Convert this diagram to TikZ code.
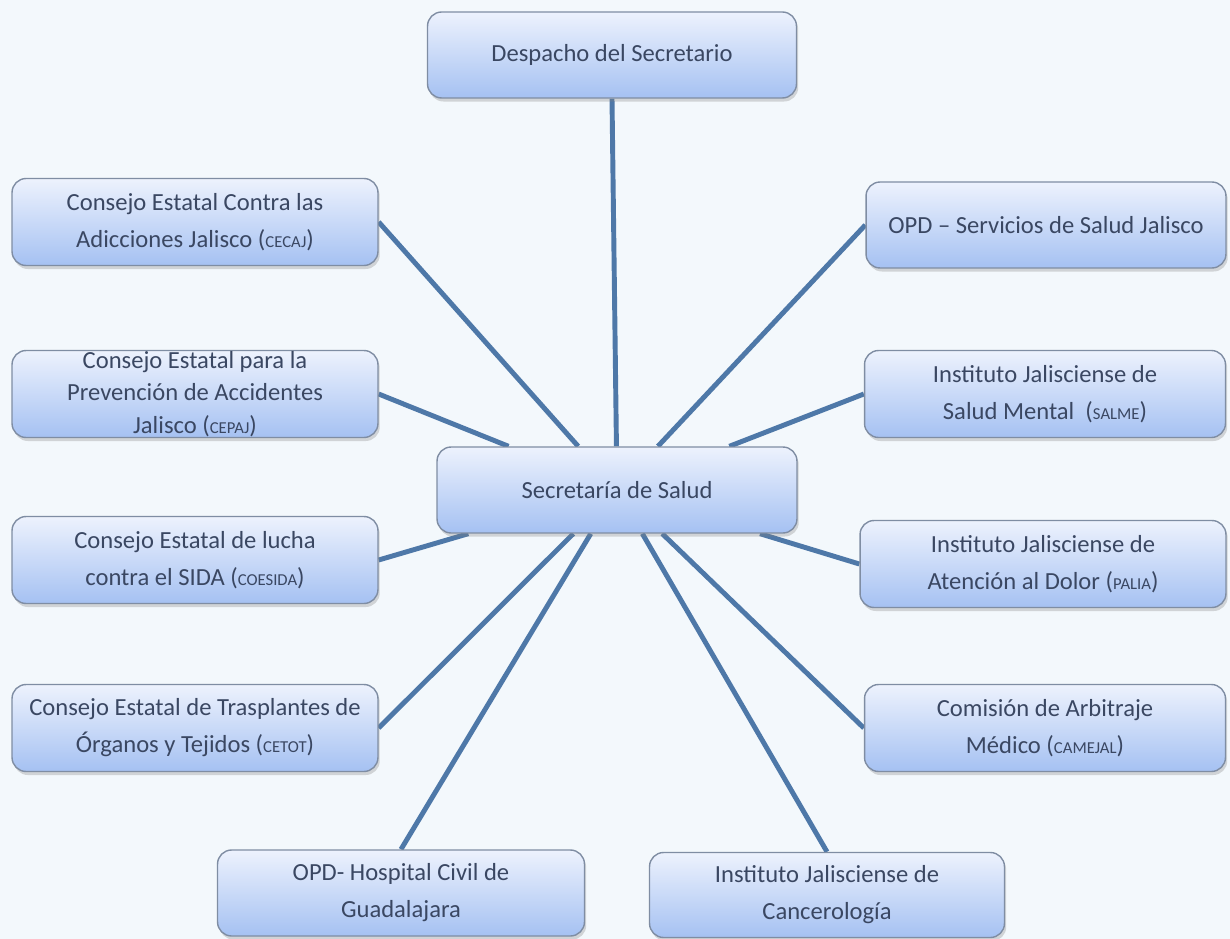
\documentclass[tikz,border=0pt]{standalone}
\usepackage{fontspec}
\setmainfont{Carlito}
\usepackage{tikz}
\usetikzlibrary{shapes,shadows,backgrounds}
\definecolor{boxtop}{HTML}{EDF2FD}
\definecolor{boxbot}{HTML}{A5C1F2}
\definecolor{boxline}{HTML}{7F8DA3}
\definecolor{linkblue}{HTML}{4E78A8}
\definecolor{txtblue}{HTML}{3A4762}
\definecolor{paper}{HTML}{F3F8FC}
\newcommand{\acr}[1]{{\fontsize{9.5}{10}\selectfont #1}}

\begin{document}
\begin{tikzpicture}[x=0.02cm,y=-0.02cm]
\tikzstyle{box}=[draw=boxline,line width=0.8pt,rounded corners=8pt,top color=boxtop,bottom color=boxbot,
  text=txtblue,align=center,minimum height=1.74cm,minimum width=7.3cm,inner xsep=2pt,inner ysep=0pt,
  font=\fontsize{14}{21}\selectfont,drop shadow={shadow xshift=1pt,shadow yshift=-2pt,opacity=0.3}]
\tikzstyle{link}=[draw=linkblue,line width=2.8pt]
\useasboundingbox (0,0) rectangle (1230,939);
% centre and top
\node[box,minimum width=7.2cm,minimum height=1.72cm] (0) at (617,490) {Secretaría de Salud};
\node[box,minimum width=7.38cm,minimum height=1.72cm] (1) at (612,55) {Despacho del Secretario};
% left column
\node[box,minimum width=7.32cm] (2) at (195,222) {Consejo Estatal Contra las\\Adicciones Jalisco (\acr{CECAJ})};
\node[box,minimum width=7.32cm,font=\fontsize{14}{18.5}\selectfont] (3) at (195,394) {Consejo Estatal para la\\Prevención de Accidentes\\Jalisco (\acr{CEPAJ})};
\node[box,minimum width=7.32cm] (4) at (195,560) {Consejo Estatal de lucha\\contra el SIDA (\acr{COESIDA})};
\node[box,minimum width=7.32cm] (5) at (195,728) {Consejo Estatal de Trasplantes de\\Órganos y Tejidos (\acr{CETOT})};
% right column
\node[box,minimum width=7.2cm,minimum height=1.72cm] (6) at (1046,225) {OPD -- Servicios de Salud Jalisco};
\node[box,minimum width=7.22cm] (7) at (1045,394) {Instituto Jalisciense de\\Salud Mental~~(\acr{SALME})};
\node[box,minimum width=7.32cm] (8) at (1043,564) {Instituto Jalisciense de\\Atención al Dolor (\acr{PALIA})};
\node[box,minimum width=7.22cm] (9) at (1045,728) {Comisión de Arbitraje\\Médico (\acr{CAMEJAL})};
% bottom row
\node[box,minimum width=7.34cm,minimum height=1.72cm] (10) at (401,893) {OPD- Hospital Civil de\\Guadalajara};
\node[box,minimum width=7.1cm,minimum height=1.7cm] (11) at (827,895) {Instituto Jalisciense de\\Cancerología};

\begin{scope}[on background layer]
\fill[paper] (0,0) rectangle (1230,939);
\path[link] (1.south) -- (0)
  (2.east) -- (0)  (3.east) -- (0)  (4.east) -- (0)  (5.east) -- (0)
  (6.west) -- (0)  (7.west) -- (0)  (8.west) -- (0)  (9.west) -- (0)
  (10.north) -- (0)  (11.north) -- (0);
\end{scope}
\end{tikzpicture}
\end{document}
